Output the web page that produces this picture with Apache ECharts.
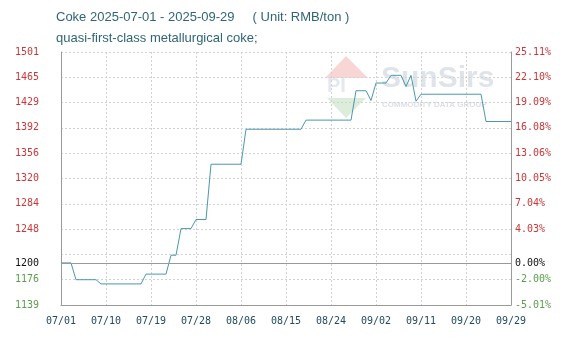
<!DOCTYPE html>
<html><head><meta charset="utf-8">
<script src="https://cdn.jsdelivr.net/npm/echarts@6/dist/echarts.min.js"></script>
<style>html,body{margin:0;padding:0;background:#fff}#c{width:577px;height:338px}</style>
</head><body><div id="c"></div>
<script>
const titleText = 'Coke 2025-07-01 - 2025-09-29     ( Unit: RMB/ton )';
const subText = 'quasi-first-class metallurgical coke;';

const dates = [
  '07/01','07/02','07/03','07/04','07/05','07/06','07/07','07/08','07/09','07/10',
  '07/11','07/12','07/13','07/14','07/15','07/16','07/17','07/18','07/19','07/20',
  '07/21','07/22','07/23','07/24','07/25','07/26','07/27','07/28','07/29','07/30','07/31',
  '08/01','08/02','08/03','08/04','08/05','08/06','08/07','08/08','08/09','08/10',
  '08/11','08/12','08/13','08/14','08/15','08/16','08/17','08/18','08/19','08/20',
  '08/21','08/22','08/23','08/24','08/25','08/26','08/27','08/28','08/29','08/30','08/31',
  '09/01','09/02','09/03','09/04','09/05','09/06','09/07','09/08','09/09','09/10',
  '09/11','09/12','09/13','09/14','09/15','09/16','09/17','09/18','09/19','09/20',
  '09/21','09/22','09/23','09/24','09/25','09/26','09/27','09/28','09/29'
];

const pricesJuly = [1200,1200,1200,1176,1176,1176,1176,1176,1170,1170,1170,1170,1170,1170,1170,1170,1170,1184,1184,1184,1184,1184,1211,1211,1249,1249,1249,1262,1262,1262,1341];
const pricesAug = [1341,1341,1341,1341,1341,1341,1391,1391,1391,1391,1391,1391,1391,1391,1391,1391,1391,1391,1404,1404,1404,1404,1404,1404,1404,1404,1404,1404,1446,1446,1446];
const pricesSep = [1432,1457,1457,1457,1468,1468,1468,1452,1468,1431,1441,1441,1441,1441,1441,1441,1441,1441,1441,1441,1441,1441,1441,1402,1402,1402,1402,1402,1402];

const baseValue = 1200;
const baseLabelLeft = '1200';
const baseLabelRight = '0.00%';
const leftTickLabels = ['1139','1176','','1248','1284','1320','1356','1392','1429','1465','1501'];
const rightTickLabels = ['-5.01%','-2.00%','','4.03%','7.04%','10.05%','13.06%','16.08%','19.09%','22.10%','25.11%'];
const axisMin = 1139.88, axisMax = 1501.32, axisStep = 36.144;

const prices = pricesJuly.concat(pricesAug, pricesSep);

const RED = '#c8383a', GREEN = '#5a9e4b', AX = '#9a9a9a', GRID = '#d2d2d2';
const FONT = 'DejaVu Sans Mono';
function idx(v){ return Math.round((v - axisMin) / axisStep); }
function lblColor(v){ return idx(v) < 2 ? GREEN : RED; }

const chart = echarts.init(document.getElementById('c'), null, {renderer:'canvas'});
chart.setOption({
  animation: false,
  backgroundColor: '#fff',
  title: [
    {text: titleText, left: 51, top: 6, textStyle: {fontFamily: 'Liberation Sans', fontSize: 13, fontWeight: 'normal', color: '#2f6577'}},
    {text: subText, left: 51, top: 27, textStyle: {fontFamily: 'Liberation Sans', fontSize: 13, fontWeight: 'normal', color: '#2f6577'}}
  ],
  graphic: [
    {type:'polygon', silent:true, z:0, shape:{points:[[325,78],[346,56],[368,78]]}, style:{fill:'rgba(232,120,120,0.3)'}},
    {type:'text', silent:true, z:0, left:327, top:76, style:{text:'PI', font:'bold 20px Liberation Sans', fill:'rgba(150,165,200,0.25)'}},
    {type:'polygon', silent:true, z:0, shape:{points:[[327,98],[346,118],[366,98]]}, style:{fill:'rgba(120,185,120,0.26)'}},
    {type:'text', silent:true, z:0, left:381, top:64, style:{text:'SunSirs', font:'bold 30px Liberation Sans', fill:'rgba(150,165,185,0.3)'}},
    {type:'text', silent:true, z:0, left:382, top:101, style:{text:'COMMODITY DATA GROUP', font:'bold 8px Liberation Sans', fill:'rgba(150,165,185,0.35)'}}
  ],
  grid: {left: 61, right: 66, top: 52, bottom: 33, containLabel: false},
  xAxis: {
    type: 'category', data: dates, boundaryGap: false,
    axisLine: {show: true, lineStyle: {color: AX}},
    axisTick: {show: false},
    axisLabel: {interval: 8, margin: 11, fontFamily: FONT, fontSize: 10, color: '#234c5e', showMaxLabel: true},
    splitLine: {show: true, interval: 8, lineStyle: {color: GRID, type: [2,2]}}
  },
  yAxis: [
    {
      type: 'value', min: axisMin, max: axisMax, interval: axisStep, position: 'left',
      axisLine: {show: true, lineStyle: {color: AX}},
      axisTick: {show: false},
      axisLabel: {margin: 22, fontFamily: FONT, fontSize: 10, color: lblColor,
        formatter: v => leftTickLabels[idx(v)] || ''},
      splitLine: {show: true, lineStyle: {color: GRID, type: [2,2]}}
    },
    {
      type: 'value', min: axisMin, max: axisMax, interval: axisStep, position: 'right',
      axisLine: {show: true, lineStyle: {color: AX}},
      axisTick: {show: false},
      axisLabel: {margin: 4, fontFamily: FONT, fontSize: 10, color: lblColor,
        formatter: v => rightTickLabels[idx(v)] || ''},
      splitLine: {show: false}
    }
  ],
  series: [{
    type: 'line', data: prices, yAxisIndex: 0, symbol: 'none', smooth: false,
    lineStyle: {color: '#4a98ae', width: 1}, z: 3,
    markLine: {
      silent: true, symbol: 'none', animation: false,
      lineStyle: {color: '#999', type: 'solid', width: 1},
      data: [
        {yAxis: baseValue, label: {show: true, position: 'start', distance: 22, formatter: baseLabelLeft, color: '#111', fontFamily: FONT, fontSize: 10}},
        {yAxis: baseValue, label: {show: true, position: 'end', distance: 4, formatter: baseLabelRight, color: '#111', fontFamily: FONT, fontSize: 10}}
      ]
    }
  }]
});
</script></body></html>
